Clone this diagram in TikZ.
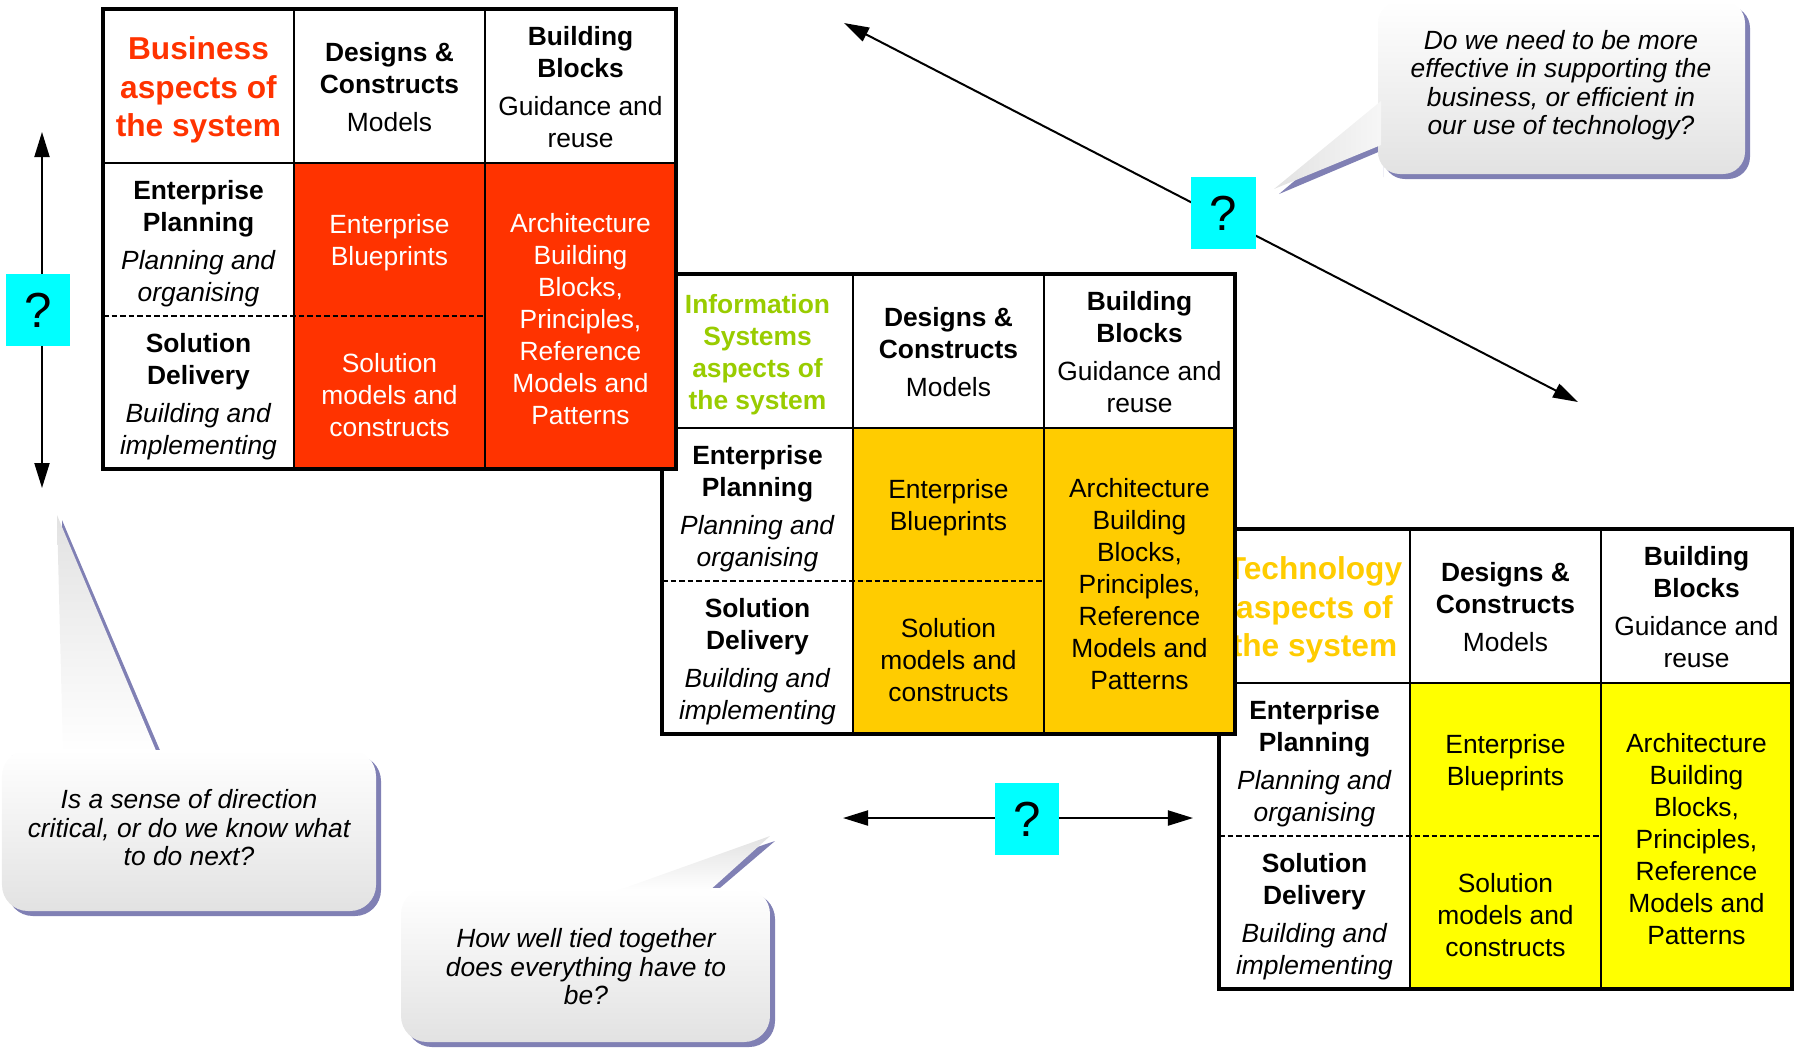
\documentclass[tikz,border=0pt]{standalone}
\usepackage{fontspec}
\setmainfont{Liberation Sans}
\usetikzlibrary{arrows.meta}

\definecolor{bizred}{HTML}{FF3300}
\definecolor{isgreen}{HTML}{99CC00}
\definecolor{isorange}{HTML}{FFCC00}
\definecolor{techyellow}{HTML}{FFFF00}
\definecolor{askcyan}{HTML}{00FFFF}
\definecolor{shadowpurple}{RGB}{128,128,180}
\definecolor{bubblegray}{HTML}{E2E2E2}

\tikzset{
  cellfont/.style={font=\fontsize{7.5}{9.1}\selectfont, align=center, inner sep=0pt},
  headfont/.style={font=\fontsize{9}{10.9}\selectfont\bfseries, align=center, inner sep=0pt},
  smallhead/.style={font=\fontsize{7.5}{9.1}\selectfont\bfseries, align=center, inner sep=0pt},
  outerline/.style={line width=0.04cm},
  innerline/.style={line width=0.018cm},
  splitline/.style={line width=0.022cm, dash pattern=on 0.055cm off 0.03cm},
  askbox/.style={fill=askcyan, minimum width=0.64cm, minimum height=0.72cm, inner sep=0pt,
    font=\fontsize{14}{16}\selectfont},
  twoway/.style={{Triangle[length=0.25cm,width=0.15cm]}-{Triangle[length=0.25cm,width=0.15cm]},
    line width=0.02cm},
  bubble/.style={top color=white, bottom color=bubblegray, rounded corners=0.26cm},
  bubbletail/.style={top color=bubblegray, bottom color=white},
  bubbleshadow/.style={fill=shadowpurple, xshift=0.05cm, yshift=-0.05cm},
  bubbletext/.style={font=\fontsize{7.5}{8.1}\selectfont\itshape, align=center, inner sep=0pt}
}

% One aspect table: name, x, y of top left corner, body colour,
% title style, title text, body text colour
\newcommand{\aspecttable}[7]{%
  \begin{scope}[xshift=#2*0.01cm, yshift=-#3*0.01cm]
    % white ground and coloured body
    \fill[white] (0,0) rectangle (573,460);
    \fill[#4] (191,154) rectangle (573,460);
    % inner grid, dashed split between planning and delivery
    \draw[innerline] (191,0) -- (191,460);
    \draw[innerline] (382,0) -- (382,460);
    \draw[innerline] (0,154) -- (573,154);
    \draw[splitline] (0,307) -- (382,307);
    % heavy outer frame
    \draw[outerline] (0,0) rectangle (573,460);
    % header row
    \node[#5] (#1-title) at (95.5,81) {#6};
    \node[cellfont] (#1-designs) at (286.5,78)
      {\textbf{Designs \&}\\\textbf{Constructs}\\[1.6pt]Models};
    \node[cellfont] (#1-blocks) at (477.5,78)
      {\textbf{Building}\\\textbf{Blocks}\\[1.6pt]Guidance and\\reuse};
    % row labels
    \node[cellfont] (#1-planning) at (95.5,234.5)
      {\textbf{Enterprise}\\\textbf{Planning}\\[1.6pt]\textit{Planning and}\\\textit{organising}};
    \node[cellfont] (#1-delivery) at (95.5,387.5)
      {\textbf{Solution}\\\textbf{Delivery}\\[1.6pt]\textit{Building and}\\\textit{implementing}};
    % coloured body
    \node[cellfont, text=#7] (#1-blueprints) at (286.5,233.5)
      {Enterprise\\Blueprints};
    \node[cellfont, text=#7] (#1-solution) at (286.5,386.5)
      {Solution\\models and\\constructs};
    \node[cellfont, text=#7] (#1-architecture) at (477.5,310)
      {Architecture\\Building\\Blocks,\\Principles,\\Reference\\Models and\\Patterns};
  \end{scope}}

\begin{document}
\begin{tikzpicture}[x=0.01cm, y=-0.01cm]

    % Frame of the slide, in pixels (y grows downwards)
    \useasboundingbox (0,0) rectangle (1796,1053);

    % Tables, back to front
    \aspecttable{tech}{1219}{529}{techyellow}{headfont, text=isorange}
      {Technology\\aspects of\\the system}{black}
    \aspecttable{is}{662}{274}{isorange}{smallhead, text=isgreen}
      {Information\\Systems\\aspects of\\the system}{black}
    \aspecttable{biz}{103}{9}{bizred}{headfont, text=bizred}
      {Business\\aspects of\\the system}{white}

    % Ends of the three arrows
    \coordinate (vtop) at (42,132);
    \coordinate (vbot) at (42,488);
    \coordinate (hleft) at (843,818);
    \coordinate (hright) at (1193,818);
    \coordinate (dtop) at (844,23);
    \coordinate (dbot) at (1578,402);

    % Draw the arrows
    \draw[twoway] (vtop) -- (vbot);
    \draw[twoway] (hleft) -- (hright);
    \draw[twoway] (dtop) -- (dbot);

    % Question boxes over the arrows
    \node[askbox] (askleft) at (38,310) {?};
    \node[askbox] (askmid) at (1027,819) {?};
    \node[askbox] (askdiag) at (1223.5,213) {?};

    % Shadows of the bubbles (box with its tail)
    \fill[bubbleshadow]
      (2,830) [rounded corners=0.26cm] -- (2,750) -- (33,750)
      [sharp corners] -- (63,750) -- (57,515) -- (157,750) -- (190,750)
      [rounded corners=0.26cm] -- (376,750) -- (376,911) -- (2,911) -- cycle;
    \fill[bubbleshadow]
      (401,965) [rounded corners=0.26cm] -- (401,888) -- (500,888)
      [sharp corners] -- (616,888) -- (770,836) -- (709,888) -- (738,888)
      [rounded corners=0.26cm] -- (770,888) -- (770,1042) -- (401,1042) -- cycle;
    \fill[bubbleshadow]
      (1561,1) [rounded corners=0.22cm] -- (1745,1) -- (1745,174)
      -- (1378,174) -- (1378,150) [sharp corners] -- (1378,145) -- (1274,189)
      -- (1378,101) -- (1378,60) [rounded corners=0.22cm] -- (1378,1) -- cycle;

    % Shaded boxes, then their tails
    \path[bubble] (2,750) rectangle (376,911);
    \path[bubble] (401,888) rectangle (770,1042);
    \path[bubble, rounded corners=0.22cm] (1378,1) rectangle (1745,174);
    \path[bubbletail] (63,753) -- (57,515) -- (157,753) -- cycle;
    \path[bubbletail] (616,891) -- (770,836) -- (709,891) -- cycle;
    \path[bubbletail, left color=bubblegray, right color=white!70!bubblegray]
      (1381,145) -- (1274,189) -- (1381,101) -- cycle;

    % Questions in the bubbles
    \node[bubbletext] (askdirection) at (189,828)
      {Is a sense of direction\\critical, or do we know what\\to do next?};
    \node[bubbletext] (asktied) at (586,967)
      {How well tied together\\does everything have to\\be?};
    \node[bubbletext] (askeffective) at (1561,85)
      {Do we need to be more\\effective in supporting the\\business, or efficient in\\our use of technology?};

\end{tikzpicture}
\end{document}
